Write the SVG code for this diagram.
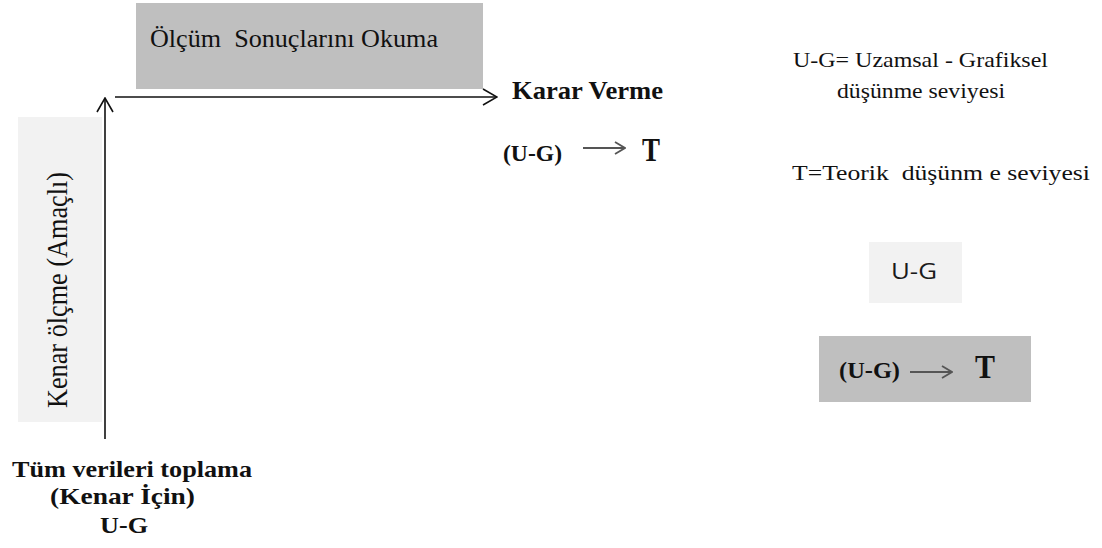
<svg xmlns="http://www.w3.org/2000/svg" width="1102" height="548" viewBox="0 0 1102 548">
<defs>
<style>
.serif{font-family:"Liberation Serif","Times New Roman",serif;fill:#111;white-space:pre;}
.b{font-weight:bold;}
.sans{font-family:"Open Sans","Liberation Sans",Arial,sans-serif;fill:#1a1a1a;}
.conn{stroke:#111;stroke-width:1.6;fill:none;}
.small{stroke:#555;stroke-width:1.8;fill:none;}
</style>
<marker id="open" viewBox="0 0 16 18" markerWidth="16" markerHeight="18" refX="15" refY="9" orient="auto" markerUnits="userSpaceOnUse">
<path d="M1,1 L15,9 L1,17" stroke="#111" stroke-width="1.6" fill="none"/>
</marker>
<marker id="openS" viewBox="0 0 12 14" markerWidth="12" markerHeight="14" refX="11" refY="7" orient="auto" markerUnits="userSpaceOnUse">
<path d="M1,1 L11,7 L1,13" stroke="#555" stroke-width="1.8" fill="none"/>
</marker>
</defs>
<rect width="1102" height="548" fill="#fff"/>

<g id="olcum">
<rect x="136" y="3" width="347" height="86" fill="#bfbfbf"/>
<text class="serif" x="150" y="47" font-size="25" textLength="288" lengthAdjust="spacingAndGlyphs" xml:space="preserve">Ölçüm  Sonuçlarını Okuma</text>
</g>

<g id="kenar-olcme">
<rect x="18" y="117" width="84" height="305" fill="#f2f2f2"/>
<text class="serif" transform="translate(67,408) scale(1.18,1) rotate(-90)" font-size="25" textLength="236" lengthAdjust="spacingAndGlyphs">Kenar ölçme (Amaçlı)</text>
</g>

<g id="karar">
<text class="serif b" x="512" y="99" font-size="25" textLength="151" lengthAdjust="spacingAndGlyphs">Karar Verme</text>
<text class="serif b" x="503" y="161" font-size="24" textLength="59" lengthAdjust="spacingAndGlyphs">(U-G)</text>
<line class="small" x1="583" y1="148" x2="625" y2="148" marker-end="url(#openS)"/>
<text class="serif b" x="642" y="161" font-size="33" textLength="18" lengthAdjust="spacingAndGlyphs">T</text>
</g>

<g id="tum-veriler">
<text class="serif b" x="12" y="477" font-size="24" textLength="240" lengthAdjust="spacingAndGlyphs">Tüm verileri toplama</text>
<text class="serif b" x="50" y="504" font-size="24" textLength="145" lengthAdjust="spacingAndGlyphs">(Kenar İçin)</text>
<text class="serif b" x="100" y="533" font-size="24" textLength="48" lengthAdjust="spacingAndGlyphs">U-G</text>
</g>

<g id="legend">
<text class="serif" x="793" y="67" font-size="22" textLength="255" lengthAdjust="spacingAndGlyphs">U-G= Uzamsal - Grafiksel</text>
<text class="serif" x="837" y="98" font-size="22" textLength="168" lengthAdjust="spacingAndGlyphs">düşünme seviyesi</text>
<text class="serif" x="792" y="180" font-size="22" textLength="298" lengthAdjust="spacingAndGlyphs" xml:space="preserve">T=Teorik  düşünm e seviyesi</text>
</g>

<g id="legend-ug">
<rect x="869" y="242" width="93" height="61" fill="#f2f2f2"/>
<text class="sans" x="891" y="279" font-size="21" textLength="46" lengthAdjust="spacingAndGlyphs">U-G</text>
</g>

<g id="legend-ugt">
<rect x="819" y="336" width="212" height="66" fill="#bfbfbf"/>
<text class="serif b" x="839" y="378" font-size="24" textLength="61" lengthAdjust="spacingAndGlyphs">(U-G)</text>
<line class="small" x1="910" y1="372" x2="952" y2="372" marker-end="url(#openS)"/>
<text class="serif b" x="975" y="378" font-size="33" textLength="20" lengthAdjust="spacingAndGlyphs">T</text>
</g>

<g id="connectors">
<line class="conn" x1="105" y1="439" x2="105" y2="98" marker-end="url(#open)"/>
<line class="conn" x1="115" y1="97" x2="497" y2="97" marker-end="url(#open)"/>
</g>
</svg>
